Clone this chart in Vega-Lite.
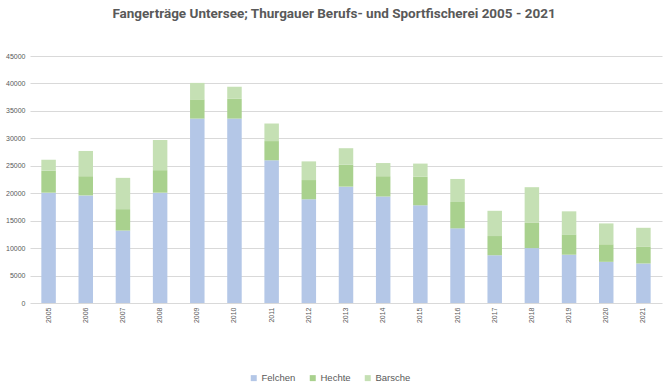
{
  "$schema": "https://vega.github.io/schema/vega-lite/v6.json",
  "autosize": "none",
  "width": 632,
  "height": 247,
  "padding": {"left": 30, "top": 56, "right": 4, "bottom": 82},
  "background": "white",
  "title": {
    "text": "Fangerträge Untersee; Thurgauer Berufs- und Sportfischerei 2005 - 2021",
    "font": "Roboto",
    "fontSize": 13.5,
    "fontWeight": "bold",
    "color": "#595959",
    "anchor": "middle",
    "offset": 32,
    "dx": -12
  },
  "data": {
    "values": [
      {"Jahr": "2005", "Art": "Felchen", "o": 1, "Wert": 20100},
      {"Jahr": "2005", "Art": "Hechte", "o": 2, "Wert": 4000},
      {"Jahr": "2005", "Art": "Barsche", "o": 3, "Wert": 2000},
      {"Jahr": "2006", "Art": "Felchen", "o": 1, "Wert": 19600},
      {"Jahr": "2006", "Art": "Hechte", "o": 2, "Wert": 3500},
      {"Jahr": "2006", "Art": "Barsche", "o": 3, "Wert": 4600},
      {"Jahr": "2007", "Art": "Felchen", "o": 1, "Wert": 13200},
      {"Jahr": "2007", "Art": "Hechte", "o": 2, "Wert": 3900},
      {"Jahr": "2007", "Art": "Barsche", "o": 3, "Wert": 5700},
      {"Jahr": "2008", "Art": "Felchen", "o": 1, "Wert": 20100},
      {"Jahr": "2008", "Art": "Hechte", "o": 2, "Wert": 4100},
      {"Jahr": "2008", "Art": "Barsche", "o": 3, "Wert": 5500},
      {"Jahr": "2009", "Art": "Felchen", "o": 1, "Wert": 33600},
      {"Jahr": "2009", "Art": "Hechte", "o": 2, "Wert": 3500},
      {"Jahr": "2009", "Art": "Barsche", "o": 3, "Wert": 3000},
      {"Jahr": "2010", "Art": "Felchen", "o": 1, "Wert": 33600},
      {"Jahr": "2010", "Art": "Hechte", "o": 2, "Wert": 3600},
      {"Jahr": "2010", "Art": "Barsche", "o": 3, "Wert": 2200},
      {"Jahr": "2011", "Art": "Felchen", "o": 1, "Wert": 26000},
      {"Jahr": "2011", "Art": "Hechte", "o": 2, "Wert": 3500},
      {"Jahr": "2011", "Art": "Barsche", "o": 3, "Wert": 3200},
      {"Jahr": "2012", "Art": "Felchen", "o": 1, "Wert": 18900},
      {"Jahr": "2012", "Art": "Hechte", "o": 2, "Wert": 3500},
      {"Jahr": "2012", "Art": "Barsche", "o": 3, "Wert": 3400},
      {"Jahr": "2013", "Art": "Felchen", "o": 1, "Wert": 21200},
      {"Jahr": "2013", "Art": "Hechte", "o": 2, "Wert": 4000},
      {"Jahr": "2013", "Art": "Barsche", "o": 3, "Wert": 3000},
      {"Jahr": "2014", "Art": "Felchen", "o": 1, "Wert": 19400},
      {"Jahr": "2014", "Art": "Hechte", "o": 2, "Wert": 3700},
      {"Jahr": "2014", "Art": "Barsche", "o": 3, "Wert": 2400},
      {"Jahr": "2015", "Art": "Felchen", "o": 1, "Wert": 17800},
      {"Jahr": "2015", "Art": "Hechte", "o": 2, "Wert": 5200},
      {"Jahr": "2015", "Art": "Barsche", "o": 3, "Wert": 2400},
      {"Jahr": "2016", "Art": "Felchen", "o": 1, "Wert": 13600},
      {"Jahr": "2016", "Art": "Hechte", "o": 2, "Wert": 4800},
      {"Jahr": "2016", "Art": "Barsche", "o": 3, "Wert": 4200},
      {"Jahr": "2017", "Art": "Felchen", "o": 1, "Wert": 8700},
      {"Jahr": "2017", "Art": "Hechte", "o": 2, "Wert": 3500},
      {"Jahr": "2017", "Art": "Barsche", "o": 3, "Wert": 4600},
      {"Jahr": "2018", "Art": "Felchen", "o": 1, "Wert": 10000},
      {"Jahr": "2018", "Art": "Hechte", "o": 2, "Wert": 4600},
      {"Jahr": "2018", "Art": "Barsche", "o": 3, "Wert": 6500},
      {"Jahr": "2019", "Art": "Felchen", "o": 1, "Wert": 8800},
      {"Jahr": "2019", "Art": "Hechte", "o": 2, "Wert": 3700},
      {"Jahr": "2019", "Art": "Barsche", "o": 3, "Wert": 4200},
      {"Jahr": "2020", "Art": "Felchen", "o": 1, "Wert": 7500},
      {"Jahr": "2020", "Art": "Hechte", "o": 2, "Wert": 3200},
      {"Jahr": "2020", "Art": "Barsche", "o": 3, "Wert": 3800},
      {"Jahr": "2021", "Art": "Felchen", "o": 1, "Wert": 7200},
      {"Jahr": "2021", "Art": "Hechte", "o": 2, "Wert": 3100},
      {"Jahr": "2021", "Art": "Barsche", "o": 3, "Wert": 3400}
    ]
  },
  "mark": {"type": "bar"},
  "encoding": {
    "x": {
      "field": "Jahr",
      "type": "ordinal",
      "title": null,
      "scale": {"paddingInner": 0.61, "paddingOuter": 0.305},
      "axis": {
        "labelAngle": 270,
        "labelFontSize": 7,
        "labelColor": "#595959",
        "labelFont": "Liberation Sans",
        "ticks": false,
        "domain": false,
        "labelPadding": 4
      }
    },
    "y": {
      "field": "Wert",
      "type": "quantitative",
      "stack": "zero",
      "title": null,
      "scale": {"domain": [0, 45000], "nice": false},
      "axis": {
        "values": [0, 5000, 10000, 15000, 20000, 25000, 30000, 35000, 40000, 45000],
        "format": "d",
        "labelFontSize": 7,
        "labelColor": "#595959",
        "labelFont": "Liberation Sans",
        "ticks": false,
        "domain": false,
        "labelPadding": 5,
        "gridColor": "#d9d9d9",
        "gridWidth": 1
      }
    },
    "color": {
      "field": "Art",
      "type": "nominal",
      "scale": {
        "domain": ["Felchen", "Hechte", "Barsche"],
        "range": ["#b4c7e7", "#a9d18e", "#c5e0b4"]
      },
      "legend": {
        "title": null,
        "orient": "none",
        "direction": "horizontal",
        "legendX": 219,
        "legendY": 317,
        "symbolType": "square",
        "symbolSize": 36,
        "symbolStrokeWidth": 0,
        "labelFontSize": 9.5,
        "labelFont": "Liberation Sans",
        "labelColor": "#595959",
        "columnPadding": 12,
        "labelOffset": 3
      }
    },
    "order": {"field": "o", "type": "quantitative"}
  },
  "config": {
    "view": {"stroke": null}
  }
}
